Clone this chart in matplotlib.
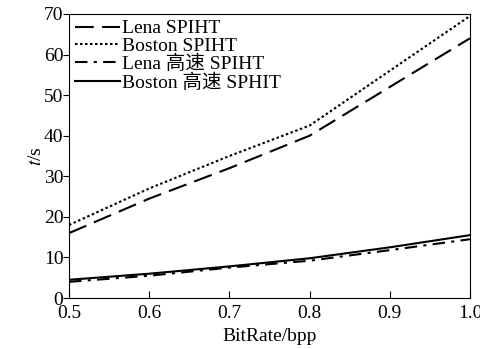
import numpy as np
import matplotlib
matplotlib.use('Agg')
import matplotlib.pyplot as plt

plt.rcParams['font.family'] = ['Liberation Serif', 'Noto Sans CJK SC']
plt.rcParams['mathtext.fontset'] = 'stix'

bitrate = [0.5, 0.6, 0.7, 0.8, 0.9, 1.0]
lena_spiht = [16, 24.5, 32, 40, 52, 64]
boston_spiht = [18, 27, 35, 42.5, 56, 69.5]
lena_fast = [4, 5.5, 7.5, 9.2, 11.8, 14.5]
boston_fast = [4.5, 6, 7.8, 9.8, 12.5, 15.5]

fig = plt.figure(figsize=(4.81, 3.49), dpi=100)
ax = fig.add_axes([0.1435, 0.146, 0.8335, 0.814])

ax.plot(bitrate, lena_spiht, color='k', lw=1.5, dashes=(9, 4), label='Lena SPIHT')
ax.plot(bitrate, boston_spiht, color='k', lw=1.5, dashes=(1.2, 1.2), label='Boston SPIHT')
ax.plot(bitrate, lena_fast, color='k', lw=1.5, dashes=(6, 3, 1.5, 3), label='Lena 高速 SPIHT')
ax.plot(bitrate, boston_fast, color='k', lw=1.5, label='Boston 高速 SPHIT')

ax.set_xlim(0.5, 1.0)
ax.set_ylim(0, 70)
ax.set_xticks([0.5, 0.6, 0.7, 0.8, 0.9, 1.0])
ax.set_yticks(range(0, 71, 10))
ax.tick_params(axis='x', direction='in', labelsize=14, length=5, pad=5)
ax.tick_params(axis='y', direction='out', labelsize=14, length=4, pad=0)
ax.set_xlabel('BitRate/bpp', fontsize=14, labelpad=4)
ax.set_ylabel('$t$/s', fontsize=14, labelpad=-1)
ax.legend(loc='upper left', frameon=False, fontsize=14, handlelength=2.3,
          handletextpad=0.15, labelspacing=0.0, borderaxespad=0.1,
          borderpad=0.2)

fig.savefig('out.png', dpi=100)
